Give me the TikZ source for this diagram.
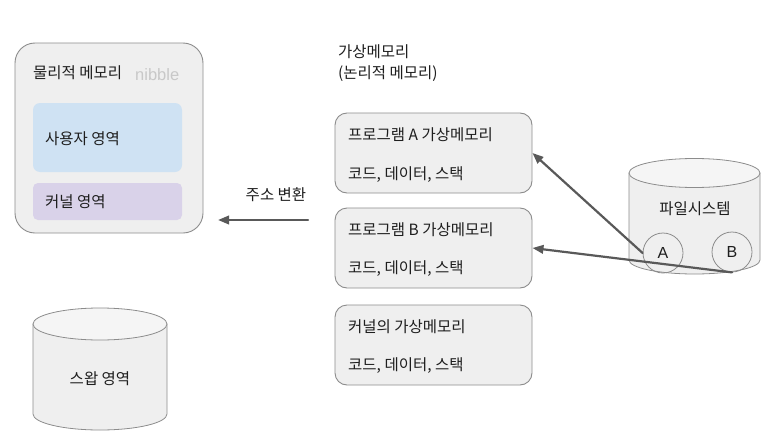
\documentclass[tikz,border=0pt]{standalone}
\usepackage{fontspec}
\setmainfont{Noto Sans CJK KR}
\newfontfamily\latinfont{Liberation Sans}
\usetikzlibrary{arrows.meta}
\definecolor{boxgray}{HTML}{EFEFEF}
\definecolor{topgray}{HTML}{F5F5F5}
\definecolor{linegray}{HTML}{8C8C8C}
\definecolor{userblue}{HTML}{CFE2F3}
\definecolor{kernpurple}{HTML}{D9D2E9}
\definecolor{arrowgray}{HTML}{595959}
\definecolor{txt}{HTML}{1E1E1E}
\definecolor{faint}{HTML}{C8C8C8}

\begin{document}
\begin{tikzpicture}[x=1pt,y=-1pt,>={Triangle[length=11pt,width=8.5pt]},font=\fontsize{15.5}{18}\selectfont,line cap=round,
  membox/.style={draw=linegray,fill=boxgray,line width=0.9pt,rounded corners=12pt,inner sep=0pt},
  area/.style={rounded corners=7pt,inner sep=0pt,minimum width=149pt},
  lbl/.style={anchor=west,inner sep=0pt,text=txt},
  ctr/.style={inner sep=0pt,text=txt},
  cyl/.style={draw=linegray,fill=boxgray,line width=0.8pt},
  file/.style={circle,draw=linegray,line width=0.8pt,minimum size=40pt,inner sep=0pt,text=txt,font=\latinfont\fontsize{16}{18}\selectfont},
  conn/.style={->,draw=arrowgray,line width=2.2pt}]
\useasboundingbox (0,0) rectangle (779,447);
% physical memory
\node[membox,rounded corners=20pt,minimum width=188pt,minimum height=190pt] (phys) at (109,138) {};
\node[area,fill=userblue,minimum height=69pt] (user) at (107.5,137.5) {};
\node[area,fill=kernpurple,rounded corners=5pt,minimum height=37pt] (kern) at (107.5,201.5) {};
\node[lbl] (phystitle) at (33,73) {물리적 메모리};
\node[lbl,text=faint,font=\latinfont\fontsize{16.5}{18}\selectfont] (nibble) at (135,75) {nibble};
\node[lbl] (usertxt) at (45,139) {사용자 영역};
\node[lbl] (kerntxt) at (45,202) {커널 영역};
% virtual memory
\node[lbl] (virt1) at (338,52) {가상메모리};
\node[lbl] (virt2) at (338,74) {(논리적 메모리)};
\node[membox,minimum width=197pt,minimum height=80pt] (pA) at (433.5,153) {};
\node[membox,minimum width=197pt,minimum height=80pt] (pB) at (433.5,248) {};
\node[membox,minimum width=197pt,minimum height=80pt] (pK) at (433.5,345) {};
\node[lbl] (pAname) at (348,135) {프로그램 A 가상메모리};
\node[lbl] (pAseg) at (348,175) {코드, 데이터, 스택};
\node[lbl] (pBname) at (348,230) {프로그램 B 가상메모리};
\node[lbl] (pBseg) at (348,269) {코드, 데이터, 스택};
\node[lbl] (pKname) at (348,327) {커널의 가상메모리};
\node[lbl] (pKseg) at (348,366) {코드, 데이터, 스택};
% file system
\draw[cyl] (629,173) -- (629,260) arc[start angle=180,end angle=0,x radius=65.5,y radius=14] -- (760,173);
\draw[cyl,fill=topgray] (694.5,173) ellipse[x radius=65.5,y radius=14.5];
\node[ctr] (fstxt) at (695,209) {파일시스템};
\node[file] (fA) at (663,253) {A};
\node[file] (fB) at (732,252) {B};
% swap
\draw[cyl] (33,324) -- (33,414) arc[start angle=180,end angle=0,x radius=67,y radius=16] -- (167,324);
\draw[cyl,fill=topgray] (100,324) ellipse[x radius=67,y radius=16];
\node[ctr] (swaptxt) at (100,379) {스왑 영역};
% arrows
\coordinate (trfrom) at (308,220);
\coordinate (trto) at (218,220);
\draw[conn] (trfrom) -- (trto);
\node[ctr] (trtxt) at (276,195) {주소 변환};
\draw[conn] (fA.west) -- (pA.east);
\draw[conn] (fB.south) -- (pB.east);
\end{tikzpicture}
\end{document}
